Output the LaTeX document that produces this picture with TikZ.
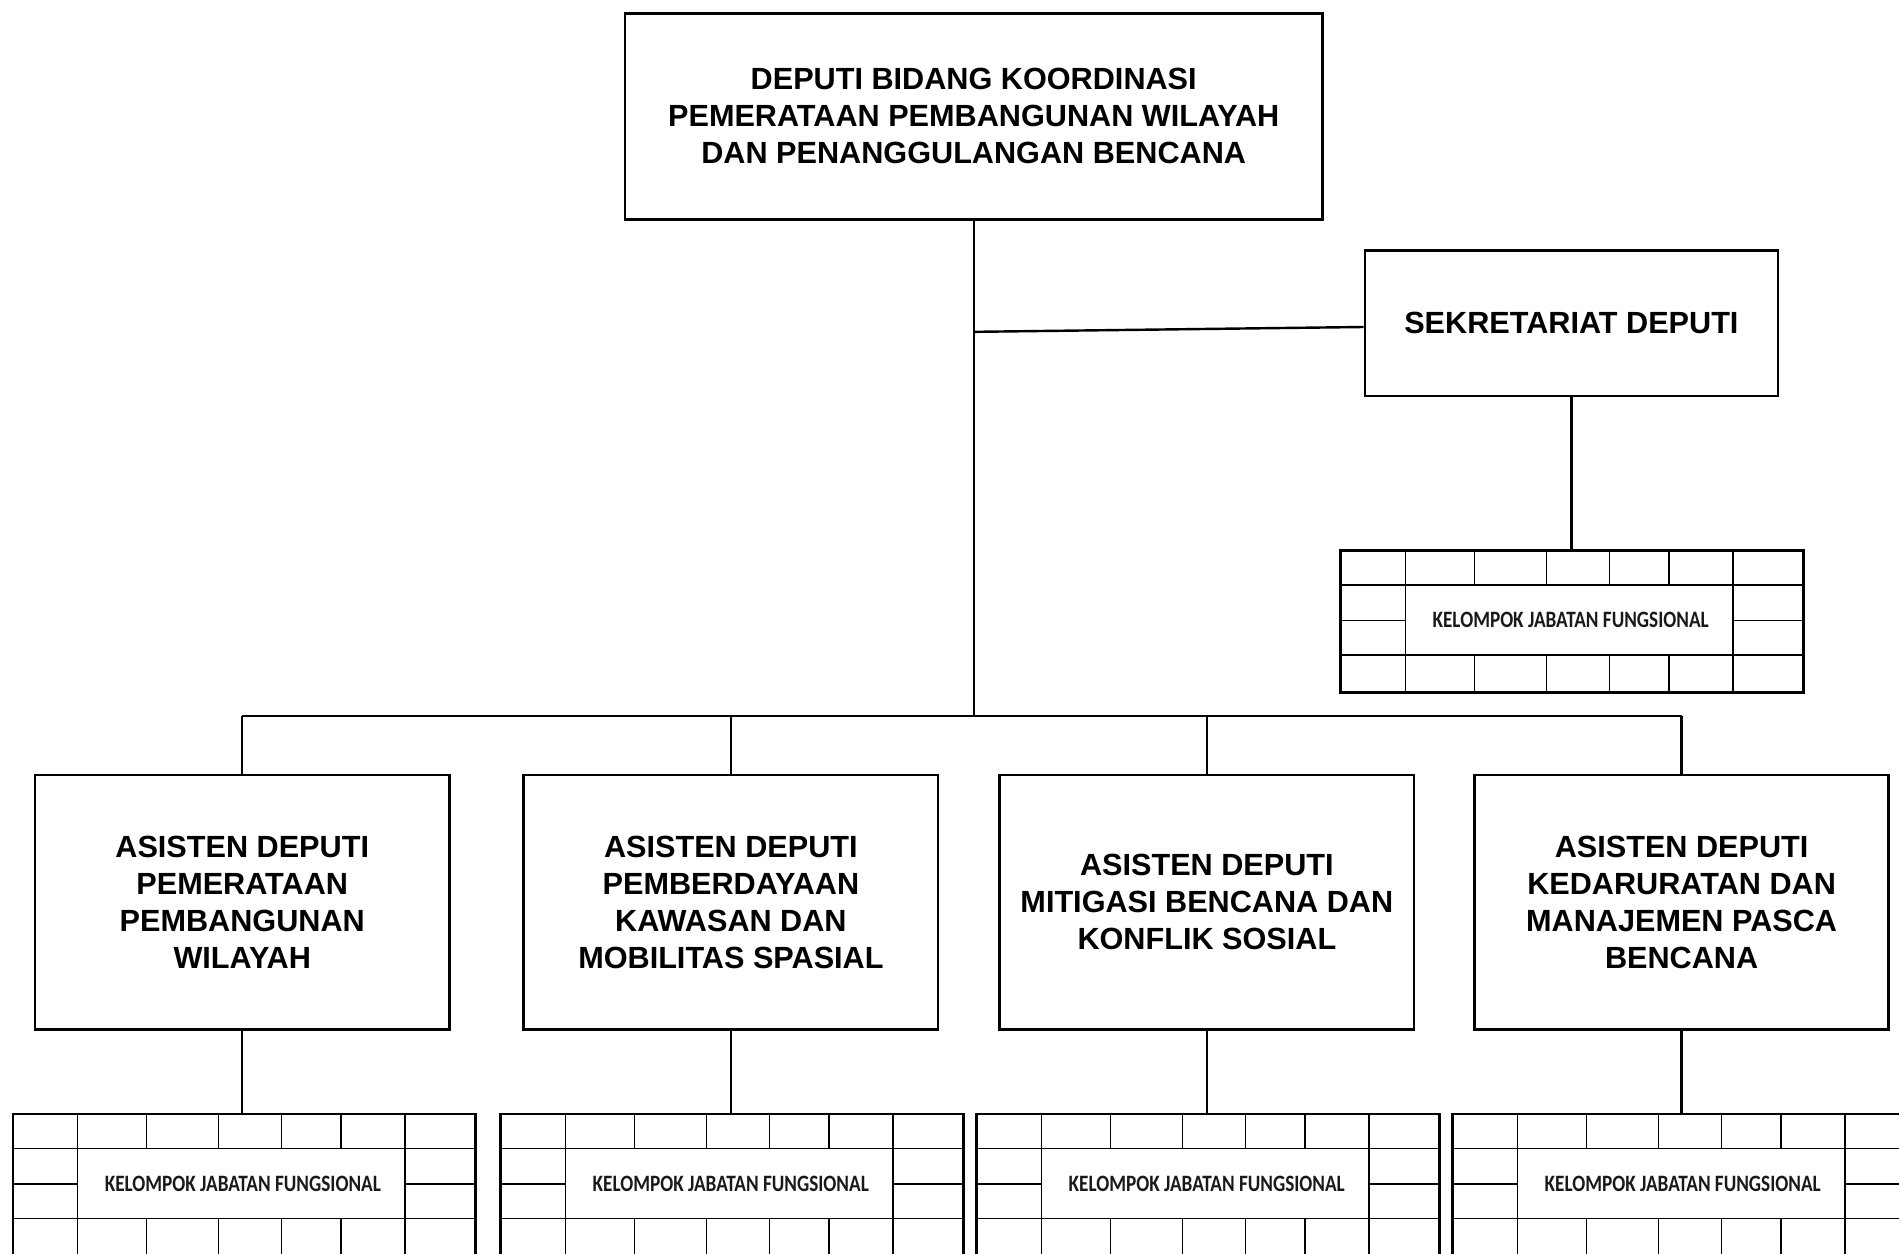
\documentclass[tikz,border=0pt]{standalone}
\usepackage{fontspec}
\usepackage{graphicx}
\setmainfont{Liberation Sans}
\newfontfamily\kjffont{Carlito}
\newcommand\kjfgrid[3]{%
  \node[kjfbox] (#1) at (#2,#3) {};
  \begin{scope}[shift={(#1.north west)}]
    \draw[gridline] (0,29.3) -- (382,29.3);
    \draw[gridline] (0,87.4) -- (382,87.4);
    \draw[gridline] (0,58.6) -- (54.5,58.6);
    \draw[gridline] (325,58.6) -- (382,58.6);
    \draw[gridline] (54.5,0) -- (54.5,117.3);
    \draw[gridline] (325,0) -- (325,117.3);
    \foreach \cx in {111.5,171,223,272}{
      \draw[gridline] (\cx,0) -- (\cx,29.3);
      \draw[gridline] (\cx,87.4) -- (\cx,117.3);
    }
    \node[kjftext] (#1t) at (191,58.6) {\resizebox{228pt}{12.7pt}{KELOMPOK JABATAN FUNGSIONAL}};
  \end{scope}
  \node[kjfbox] at (#2,#3) {};
}
\begin{document}
\begin{tikzpicture}[x=1pt,y=-1pt,
  box/.style={draw, line width=2.2pt, inner sep=0pt, align=center,
    font=\bfseries\fontsize{25.3}{30.5}\selectfont},
  conn/.style={line width=2pt},
  kjfbox/.style={draw, line width=2.2pt, minimum width=382pt, minimum height=117.3pt, inner sep=0pt},
  gridline/.style={line width=1.2pt},
  kjftext/.style={inner sep=0pt, font=\kjffont\bfseries, text=black!90}
]
\useasboundingbox (0,0) rectangle (1568,1035);
\clip (0,0) rectangle (1568,1035);

% top
\node[box, minimum width=576pt, minimum height=170pt] (top) at (804,96)
  {DEPUTI BIDANG KOORDINASI\\PEMERATAAN PEMBANGUNAN WILAYAH\\DAN PENANGGULANGAN BENCANA};

% secretariat
\node[box, minimum width=341pt, minimum height=120pt] (sek) at (1297.5,267) {SEKRETARIAT DEPUTI};

% assistant deputies
\node[box, minimum width=342pt, minimum height=210pt] (b1) at (200,745)
  {ASISTEN DEPUTI\\PEMERATAAN\\PEMBANGUNAN\\WILAYAH};
\node[box, minimum width=342pt, minimum height=210pt] (b2) at (603.5,745)
  {ASISTEN DEPUTI\\PEMBERDAYAAN\\KAWASAN DAN\\MOBILITAS SPASIAL};
\node[box, minimum width=342pt, minimum height=210pt] (b3) at (996.5,745)
  {ASISTEN DEPUTI\\MITIGASI BENCANA DAN\\KONFLIK SOSIAL};
\node[box, minimum width=342pt, minimum height=210pt] (b4) at (1388.5,745)
  {ASISTEN DEPUTI\\KEDARURATAN DAN\\MANAJEMEN PASCA\\BENCANA};

% functional groups
\kjfgrid{kr}{1298}{513.3}
\kjfgrid{k1}{201.6}{978.6}
\kjfgrid{k2}{604.5}{978.6}
\kjfgrid{k3}{997.5}{978.6}
\kjfgrid{k4}{1390.5}{978.6}

% connectors
\coordinate (jsek) at (804,274);
\coordinate (jbus) at (804,591);
\coordinate (bl) at (200,591);
\coordinate (br) at (1389,591);
\draw[conn] (top.south) -- (jbus);
\draw[conn] (jsek) -- ([yshift=-3pt]sek.west);
\draw[conn] (bl) -- (br);
\draw[conn] (b1.north |- bl) -- (b1.north);
\draw[conn] (b2.north |- bl) -- (b2.north);
\draw[conn] (b3.north |- bl) -- (b3.north);
\draw[conn] (b4.north |- bl) -- (b4.north);
\draw[conn] (sek.south) -- (sek.south |- kr.north);
\draw[conn] (b1.south) -- (b1.south |- k1.north);
\draw[conn] (b2.south) -- (b2.south |- k2.north);
\draw[conn] (b3.south) -- (b3.south |- k3.north);
\draw[conn] (b4.south) -- (b4.south |- k4.north);
\end{tikzpicture}
\end{document}
